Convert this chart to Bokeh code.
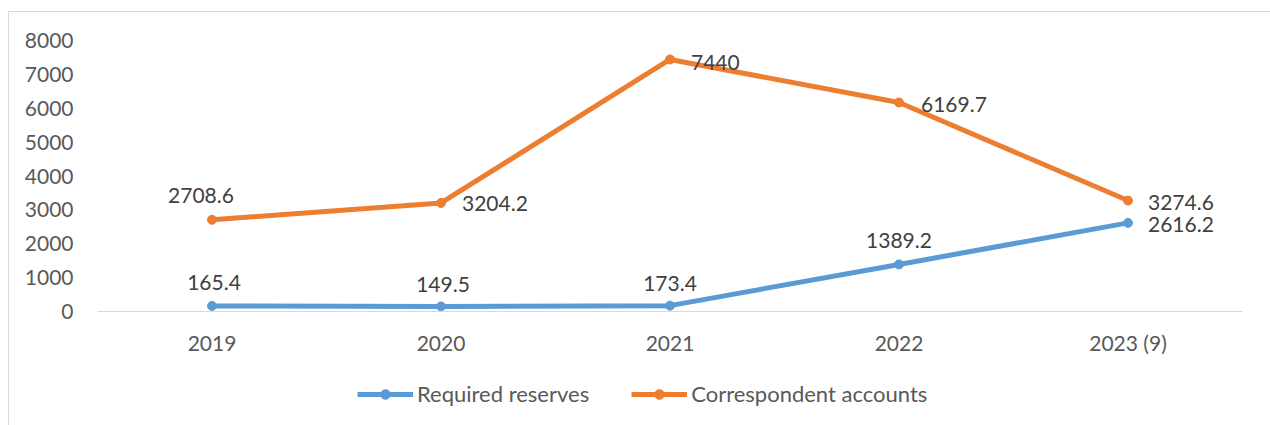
from bokeh.plotting import figure
from bokeh.layouts import column
from bokeh.models import (ColumnDataSource, FixedTicker, Range1d, FactorRange, Legend,
                          LegendItem, InlineStyleSheet)
from bokeh.core.properties import value
from bokeh.embed import file_html
from bokeh.resources import INLINE

# ---- data ----
years = ["2019", "2020", "2021", "2022", "2023 (9)"]
required_reserves = [165.4, 149.5, 173.4, 1389.2, 2616.2]
correspondent_accounts = [2708.6, 3204.2, 7440, 6169.7, 3274.6]
y_ticks = [0, 1000, 2000, 3000, 4000, 5000, 6000, 7000, 8000]
series_names = ["Required reserves", "Correspondent accounts"]

# label offsets (screen px)
rr_dx = [2, 2, 0, 0, 20]
rr_dy = [-23, -22, -22, -24, 2]
rr_align = ["center", "center", "center", "center", "left"]
ca_dx = [-11, 21, 21, 22, 20]
ca_dy = [-24, 1, 3, 2, 2]
ca_align = ["center", "left", "left", "left", "left"]

BLUE = "#5B9BD5"
ORANGE = "#ED7D31"
FONT = "Lato"
FS = "21px"

p = figure(width=1270, height=360, x_range=FactorRange(*years, range_padding=0),
           y_range=Range1d(0, 8000), output_backend="svg", toolbar_location=None,
           min_border_left=97, min_border_right=28, min_border_top=40,
           min_border_bottom=49)
p.outline_line_color = None
p.xgrid.visible = False
p.ygrid.visible = False

p.yaxis.ticker = FixedTicker(ticks=y_ticks)
p.yaxis.axis_line_color = None
p.yaxis.major_tick_line_color = None
p.yaxis.minor_tick_line_color = None
p.yaxis.major_label_standoff = 18
p.yaxis.major_label_text_font = FONT
p.yaxis.major_label_text_font_size = FS
p.yaxis.major_label_text_color = "#595959"

p.xaxis.axis_line_color = "#D9D9D9"
p.xaxis.axis_line_width = 1
p.xaxis.major_tick_line_color = None
p.xaxis.minor_tick_line_color = None
p.xaxis.major_label_standoff = 12
p.xaxis.major_label_text_font = FONT
p.xaxis.major_label_text_font_size = FS
p.xaxis.major_label_text_color = "#595959"

src = ColumnDataSource(dict(x=years, rr=required_reserves, ca=correspondent_accounts,
                            rr_lbl=[f"{v:g}" for v in required_reserves],
                            ca_lbl=[f"{v:g}" for v in correspondent_accounts],
                            rr_dx=rr_dx, rr_dy=rr_dy, rr_align=rr_align,
                            ca_dx=ca_dx, ca_dy=ca_dy, ca_align=ca_align))

p.line("x", "rr", source=src, line_color=BLUE, line_width=5)
p.scatter("x", "rr", source=src, size=9, fill_color=BLUE, line_color=BLUE)
p.line("x", "ca", source=src, line_color=ORANGE, line_width=5)
p.scatter("x", "ca", source=src, size=9, fill_color=ORANGE, line_color=ORANGE)

p.text("x", "rr", text="rr_lbl", source=src, x_offset="rr_dx", y_offset="rr_dy",
       text_align="rr_align", text_baseline="middle", text_font=value(FONT),
       text_font_size=FS, text_color="#404040")
p.text("x", "ca", text="ca_lbl", source=src, x_offset="ca_dx", y_offset="ca_dy",
       text_align="ca_align", text_baseline="middle", text_font=value(FONT),
       text_font_size=FS, text_color="#404040")

# legend strip: renderers hold the series values but lie outside this strip's range,
# so only their legend swatches show
lg = figure(width=1270, height=65, x_range=Range1d(0, 1), y_range=Range1d(0, 1),
            output_backend="svg", toolbar_location=None, min_border=0,
            x_axis_type=None, y_axis_type=None)
lg.outline_line_color = None
lg.xgrid.visible = False
lg.ygrid.visible = False
items = []
for name, col, field in zip(series_names, [BLUE, ORANGE], ["rr", "ca"]):
    r1 = lg.line(field, field, source=src, line_color=col, line_width=5)
    r2 = lg.scatter(field, field, source=src, size=9, fill_color=col, line_color=col)
    items.append(LegendItem(label=name, renderers=[r1, r2]))

legend = Legend(items=items, orientation="horizontal", location=(260, 18))
legend.label_text_font = FONT
legend.label_text_font_size = "22px"
legend.label_text_color = "#595959"
legend.glyph_width = 56
legend.glyph_height = 24
legend.label_height = 24
legend.label_standoff = 4
legend.spacing = 42
legend.padding = 0
legend.margin = 0
legend.border_line_color = None
legend.background_fill_alpha = 0
lg.add_layout(legend, "center")

layout = column(p, lg, spacing=0)
layout.stylesheets = [InlineStyleSheet(css="""
:host { position: relative; }
:host::after { content: ''; position: absolute; left: 8px; top: 11px;
  width: 1400px; height: 600px; border: 1px solid #D9D9D9; pointer-events: none;
  z-index: 10; }
""")]

open("out.html", "w").write(file_html(layout, INLINE))
